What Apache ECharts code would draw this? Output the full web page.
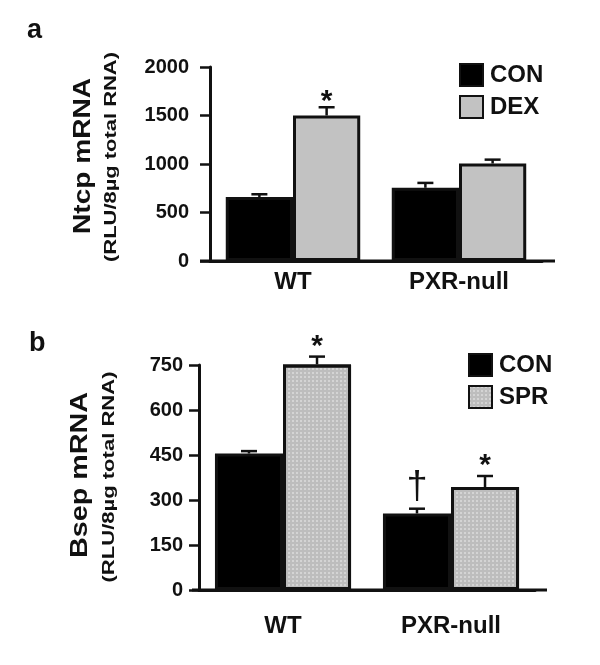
<!DOCTYPE html>
<html>
<head>
<meta charset="utf-8">
<script src="https://cdn.jsdelivr.net/npm/echarts@6/dist/echarts.min.js"></script>
<style>
  html, body { margin: 0; padding: 0; background: #fff; }
  #main { width: 600px; height: 665px; }
</style>
</head>
<body>
<div id="main"></div>
<script>
// data
const categories = ['WT', 'PXR-null'];

const ntcpCon = [660, 755];
const ntcpConErr = [28, 50];
const ntcpDex = [1500, 1005];
const ntcpDexErr = [85, 40];
const ntcpConMarks = ['', ''];
const ntcpDexMarks = ['*', ''];

const bsepCon = [455, 255];
const bsepConErr = [8, 16];
const bsepSpr = [752, 343];
const bsepSprErr = [26, 37];
const bsepConMarks = ['', '\u2020'];
const bsepSprMarks = ['*', '*'];

const ntcpTicks = { min: 0, max: 2000, interval: 500 };
const bsepTicks = { min: 0, max: 750, interval: 150 };

const FONT = '"Liberation Sans", Arial, sans-serif';
const GAP = 0.19;

// stretch rotated titles to the length seen in the figure
function fitScale(text, font, len) {
  const ctx = document.createElement('canvas').getContext('2d');
  ctx.font = font;
  return len / ctx.measureText(text).width;
}

function vTitle(text, size, cx, cy, len) {
  const font = 'bold ' + size + 'px ' + FONT;
  return {
    type: 'text',
    x: cx, y: cy,
    rotation: Math.PI / 2,
    scaleX: fitScale(text, font, len),
    style: { text: text, font: font, fill: '#111', align: 'center', verticalAlign: 'middle' }
  };
}

function errSeries(idx, vals, errs, marks, side, markSize, markGap) {
  return {
    type: 'custom',
    xAxisIndex: idx,
    yAxisIndex: idx,
    z: 5,
    silent: true,
    data: vals.map((v, i) => [i, v, errs[i]]),
    renderItem(params, api) {
      const i = api.value(0), v = api.value(1), e = api.value(2);
      const band = api.size([1, 0])[0];
      const bw = band * (1 - GAP) / 2;
      const base = api.coord([i, v]);
      const top = api.coord([i, v + e]);
      const x = base[0] + side * bw / 2;
      const st = { stroke: '#111', lineWidth: 2.5 };
      const children = [
        { type: 'line', shape: { x1: x, y1: base[1], x2: x, y2: top[1] }, style: st },
        { type: 'line', shape: { x1: x - 8, y1: top[1], x2: x + 8, y2: top[1] }, style: st }
      ];
      const mk = marks[params.dataIndex];
      if (mk) {
        children.push({
          type: 'text',
          x: x, y: top[1] - markGap,
          style: {
            text: mk, fill: '#111', align: 'center', verticalAlign: 'bottom',
            font: (mk === '*' ? 'bold ' : '') + markSize + 'px ' + FONT
          }
        });
      }
      return { type: 'group', children: children };
    }
  };
}

function barSeries(name, idx, vals, color, decal) {
  const s = {
    name: name,
    type: 'bar',
    xAxisIndex: idx,
    yAxisIndex: idx,
    barGap: '0%',
    barCategoryGap: (GAP * 100) + '%',
    itemStyle: { color: color, borderColor: '#111', borderWidth: 3 },
    data: vals
  };
  if (decal) s.itemStyle.decal = decal;
  return s;
}

const sprDecal = {
  symbol: 'rect',
  symbolSize: 1,
  color: 'rgba(255,255,255,0.35)',
  dashArrayX: [2, 2],
  dashArrayY: [2, 2]
};

function yAxis(idx, ticks, margin) {
  return {
    type: 'value',
    gridIndex: idx,
    min: ticks.min, max: ticks.max, interval: ticks.interval,
    axisLine: { show: true, lineStyle: { color: '#111', width: 3 } },
    axisTick: { show: true, length: 10, lineStyle: { color: '#111', width: 2.5 } },
    axisLabel: {
      margin: margin, color: '#111', fontFamily: FONT, fontWeight: 'bold', fontSize: 20,
      formatter: (v) => String(v)
    },
    splitLine: { show: false }
  };
}

function xAxis(idx, margin) {
  return {
    type: 'category',
    gridIndex: idx,
    data: categories,
    axisLine: { show: true, lineStyle: { color: '#111', width: 3 } },
    axisTick: { show: false },
    axisLabel: { margin: margin, color: '#111', fontFamily: FONT, fontWeight: 'bold', fontSize: 24 }
  };
}

function legend(left, top, names) {
  return {
    orient: 'vertical',
    left: left, top: top,
    padding: 0,
    itemWidth: 23, itemHeight: 22, itemGap: 8,
    icon: 'rect',
    selectedMode: false,
    data: names,
    textStyle: { color: '#111', fontFamily: FONT, fontWeight: 'bold', fontSize: 24, padding: [0, 0, 0, 2] }
  };
}

const chart = echarts.init(document.getElementById('main'));

const option = {
  animation: false,
  backgroundColor: '#fff',
  grid: [
    { left: 210, right: 58, top: 67, bottom: 404 },
    { left: 199, right: 65, top: 365, bottom: 75 }
  ],
  xAxis: [xAxis(0, 9), xAxis(1, 24)],
  yAxis: [yAxis(0, ntcpTicks, 21), yAxis(1, bsepTicks, 16)],
  legend: [
    legend(459, 63, ['CON', 'DEX']),
    legend(468, 353, ['CON', 'SPR'])
  ],
  graphic: [
    { type: 'text', x: 27, y: 17, style: { text: 'a', font: 'bold 27px ' + FONT, fill: '#111' } },
    { type: 'text', x: 29, y: 330, style: { text: 'b', font: 'bold 27px ' + FONT, fill: '#111' } },
    vTitle('Ntcp mRNA', 23, 84, 156, 156),
    vTitle('(RLU/8\u00b5g total RNA)', 16, 112, 157, 210),
    vTitle('Bsep mRNA', 23, 81, 475, 166),
    vTitle('(RLU/8\u00b5g total RNA)', 16, 110, 477, 211),
    // axis line runs a little past the plot
    { type: 'line', shape: { x1: 200, y1: 261, x2: 555, y2: 261 }, style: { stroke: '#111', lineWidth: 3 } },
    { type: 'line', shape: { x1: 192, y1: 590, x2: 547, y2: 590 }, style: { stroke: '#111', lineWidth: 3 } }
  ],
  series: [
    barSeries('CON', 0, ntcpCon, '#000'),
    barSeries('DEX', 0, ntcpDex, '#c2c2c2'),
    errSeries(0, ntcpCon, ntcpConErr, ntcpConMarks, -1, 30, 0),
    errSeries(0, ntcpDex, ntcpDexErr, ntcpDexMarks, 1, 30, -9),
    barSeries('CON', 1, bsepCon, '#000'),
    barSeries('SPR', 1, bsepSpr, '#bdbdbd', sprDecal),
    errSeries(1, bsepCon, bsepConErr, bsepConMarks, -1, 38, 2),
    errSeries(1, bsepSpr, bsepSprErr, bsepSprMarks, 1, 30, -5)
  ]
};

chart.setOption(option);
window.addEventListener('resize', () => {
  chart.resize();
});
</script>
</body>
</html>
